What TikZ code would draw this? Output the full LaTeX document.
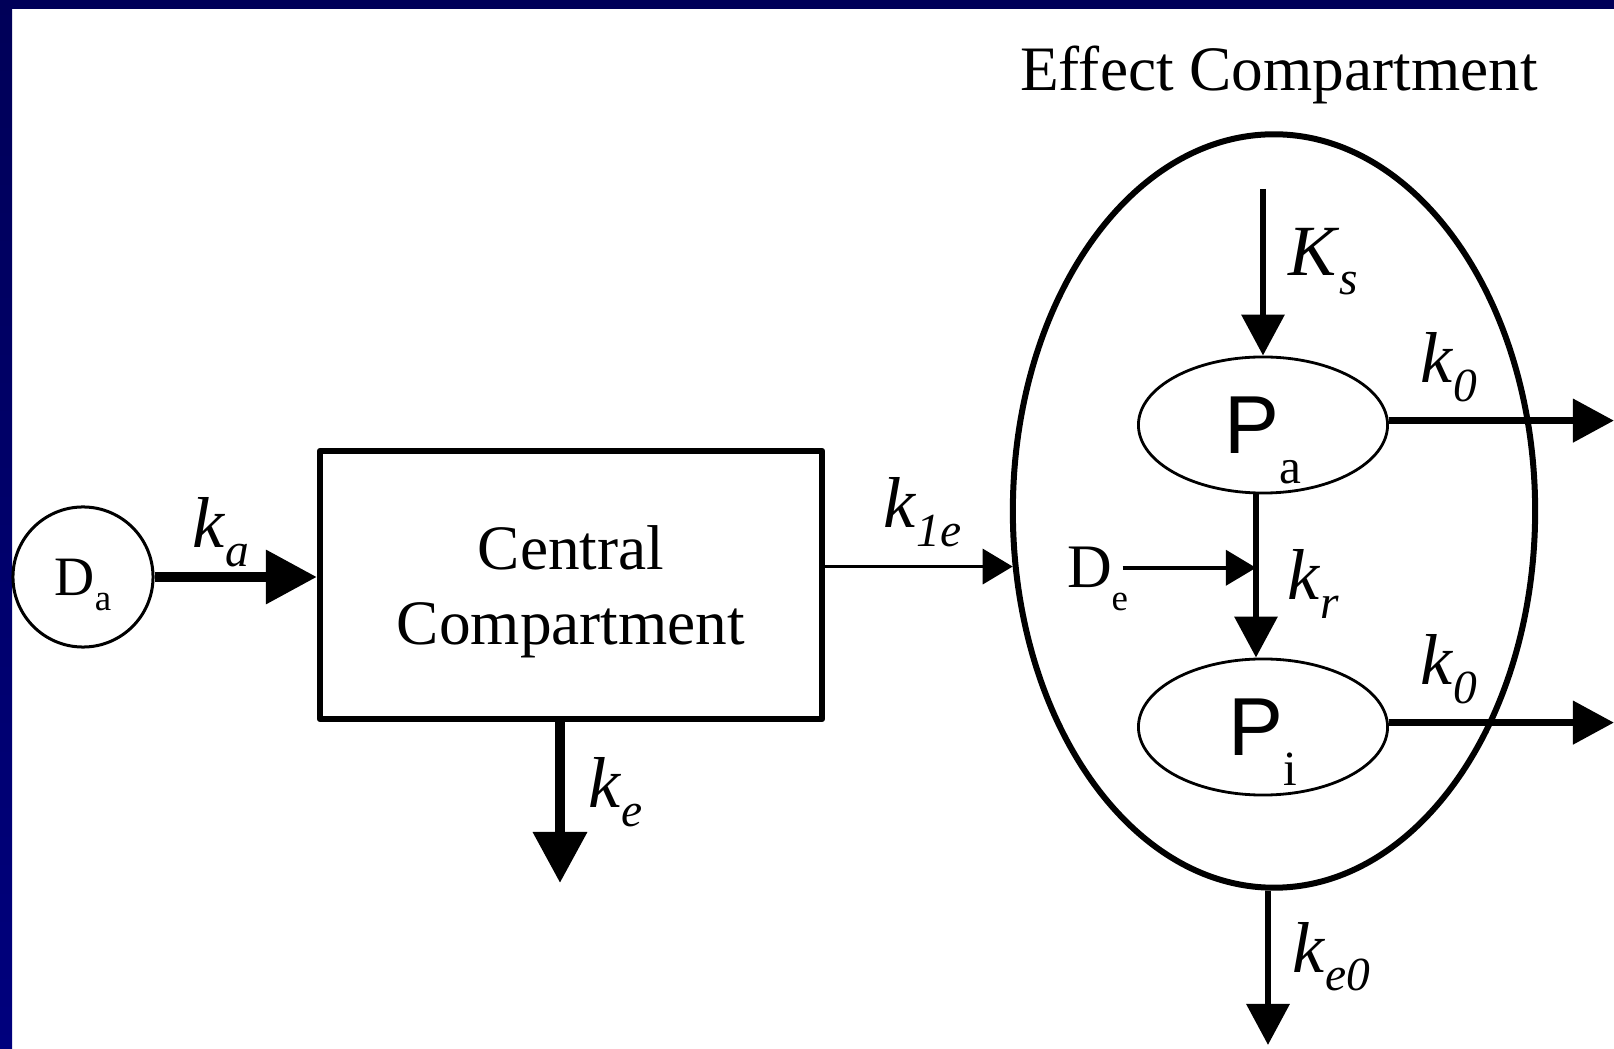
\documentclass[tikz,border=0pt]{standalone}
\usepackage{fontspec}
\setmainfont{Liberation Serif}
\newfontfamily\sansfam{Liberation Sans}
\usetikzlibrary{shapes.geometric,arrows.meta}
\definecolor{navyframe}{RGB}{0,0,88}
\definecolor{navylow}{RGB}{0,0,125}
% rate constant, letter and lowered index
\newcommand{\krate}[2]{{\fontsize{20.5}{24}\selectfont\textit{#1}}\raisebox{-5.4pt}{\fontsize{13.5}{16}\selectfont\textit{#2}}}
% receptor state P with index
\newcommand{\pstate}[1]{{\sansfam\fontsize{23.4}{28}\selectfont P}\raisebox{-8.6pt}[0pt][0pt]{\fontsize{14}{16}\selectfont #1}}
\begin{document}
\begin{tikzpicture}[x=0.01cm,y=-0.01cm,line join=round,
	bigarrow/.style={line width=1mm,-{Triangle[length=5.1mm,width=5.2mm]}},
	midarrow/.style={line width=0.65mm,-{Triangle[length=4.1mm,width=4.2mm]}},
	outarrow/.style={line width=0.75mm,-{Triangle[length=4.1mm,width=4.2mm]}},
	thinarrow/.style={line width=0.35mm,-{Triangle[length=3mm,width=3.5mm]}},
	lbl/.style={anchor=base west,inner sep=0pt},
	state/.style={ellipse,draw,line width=0.28mm,minimum width=2.49cm,minimum height=1.36cm,inner sep=0pt}]
	\useasboundingbox (0,0) rectangle (1614,1049);
	% slide frame
	\fill[navyframe] (0,0) rectangle (1614,9);
	\shade[top color=navyframe,bottom color=navylow] (0,0) rectangle (12,1049);
	% compartments
	\node[circle,draw,line width=0.3mm,minimum size=1.4cm,inner sep=0pt] (Da) at (83,577) {{\fontsize{15.8}{18}\selectfont D}\raisebox{-4.3pt}[0pt][0pt]{\fontsize{10.5}{12}\selectfont a}};
	\node[draw,line width=0.6mm,minimum width=5.02cm,minimum height=2.68cm,align=center,text depth=0pt,font=\fontsize{18}{21.3}\selectfont] (central) at (571,585) {Central\\Compartment};
	\node[ellipse,draw,line width=0.6mm,minimum width=5.22cm,minimum height=7.53cm,inner sep=0pt] (effect) at (1274,511) {};
	\node[anchor=base,font=\fontsize{18}{21.3}\selectfont] (title) at (1279,91) {Effect Compartment};
	\node[state] (Pa) at (1263,425) {\pstate{a}};
	\node[state] (Pi) at (1263,727) {\pstate{i}};
	\node[anchor=base west,inner sep=0pt,outer xsep=1.1mm] (De) at (1056,588) {{\fontsize{17.6}{20}\selectfont D}\rlap{\raisebox{-6.5pt}[0pt][0pt]{\fontsize{10.5}{12}\selectfont e}}};
	% rate labels
	\node[lbl] (ka) at (192,548) {\krate{k}{a}};
	\node[lbl] (ke) at (588,808) {\krate{k}{e}};
	\node[lbl] (k1e) at (883,528) {\krate{k}{1e}};
	\node[lbl] (Ks) at (1288,276) {\krate{K}{s}};
	\node[lbl] (k0a) at (1420,383) {\krate{k}{0}};
	\node[lbl] (kr) at (1287,600) {\krate{k}{r}};
	\node[lbl] (k0i) at (1420,685) {\krate{k}{0}};
	\node[lbl] (ke0) at (1292,972) {\krate{k}{e0}};
	% free ends
	\coordinate (keend) at (560,883);
	\coordinate (kstop) at (1263,189);
	\coordinate (krx) at (1256,0);
	\coordinate (rim) at (1614,0);
	\coordinate (ke0end) at (1268,1045);
	% flows
	\draw[bigarrow] (Da) -- (Da -| central.west);
	\draw[bigarrow] (keend |- central.south) -- (keend);
	\draw[thinarrow] (central.east |- effect.192.7) -- (effect.192.7);
	\draw[midarrow] (kstop) -- (Pa.north);
	\draw[midarrow] (krx |- Pa.south) -- (krx |- Pi.north);
	\draw[thinarrow] (De.east) -- (krx |- De.east);
	\draw[outarrow] (Pa.2.5) -- (Pa.2.5 -| rim);
	\draw[outarrow] (Pi.2.5) -- (Pi.2.5 -| rim);
	\draw[midarrow] (ke0end |- effect.south) -- (ke0end);
\end{tikzpicture}
\end{document}
